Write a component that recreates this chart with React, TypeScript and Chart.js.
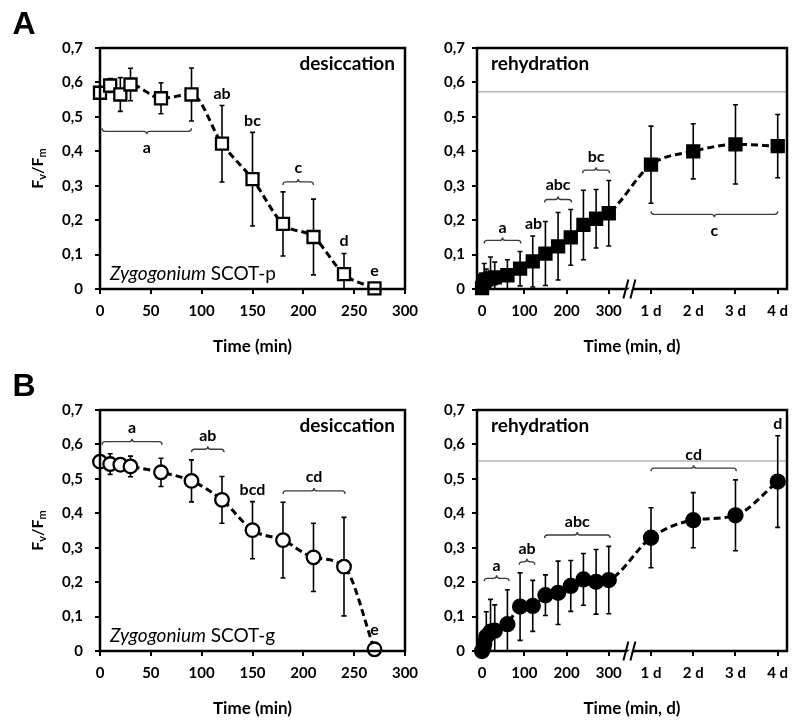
import { useEffect, useRef } from "react";
import { Chart, registerables } from "chart.js";
Chart.register(...registerables);

const FONT = "Lato, 'Noto Sans', sans-serif";

// ---------- data ----------
const desTimes = [0, 10, 20, 30, 60, 90, 120, 150, 180, 210, 240, 270];
const desP = [0.570, 0.591, 0.565, 0.594, 0.554, 0.565, 0.422, 0.319, 0.189, 0.151, 0.043, 0.002];
const desPErr = [0.012, 0.02, 0.049, 0.047, 0.045, 0.077, 0.111, 0.136, 0.093, 0.110, 0.060, 0];
const desG = [0.550, 0.543, 0.541, 0.536, 0.519, 0.494, 0.439, 0.351, 0.322, 0.272, 0.245, 0.005];
const desGErr = [0.010, 0.030, 0.015, 0.030, 0.041, 0.061, 0.068, 0.083, 0.110, 0.099, 0.143, 0];

// rehydration: minutes, then days (1 d .. 4 d placed after the axis break)
const rehMinutes = [0, 5, 10, 20, 30, 60, 90, 120, 150, 180, 210, 240, 270, 300];
const rehDays = [1, 2, 3, 4];
const rehP = [0.003, 0.024, 0.028, 0.031, 0.034, 0.040, 0.059, 0.080, 0.103, 0.124, 0.150, 0.186, 0.204, 0.220, 0.361, 0.400, 0.420, 0.415];
const rehPErr = [0.01, 0.05, 0.03, 0.062, 0.044, 0.045, 0.050, 0.074, 0.093, 0.098, 0.081, 0.101, 0.085, 0.095, 0.112, 0.080, 0.115, 0.092];
const rehG = [0.000, 0.020, 0.042, 0.056, 0.059, 0.078, 0.129, 0.131, 0.162, 0.169, 0.189, 0.208, 0.201, 0.206, 0.329, 0.380, 0.394, 0.492];
const rehGErr = [0.01, 0.03, 0.072, 0.094, 0.075, 0.100, 0.098, 0.074, 0.059, 0.092, 0.074, 0.075, 0.094, 0.098, 0.087, 0.080, 0.103, 0.133];

const controlP = 0.573;
const controlG = 0.552;

const yTicks = [0, 0.1, 0.2, 0.3, 0.4, 0.5, 0.6, 0.7];
const desXTicks = [0, 50, 100, 150, 200, 250, 300];
const rehMinTicks = [0, 100, 200, 300];
const rehDayLabels = ["1 d", "2 d", "3 d", "4 d"];

const DAY_START = 300; // axis position of day 0
const DAY_STEP = 100;  // axis units per day
const BREAK_AT = 350;

type Brace = { x1: number; x2: number; y: number; ly: number; label: string; dir: "up" | "down" };
type Mark = { x: number; y: number; label: string };

const bracesAL: Brace[] = [
  { x1: 2, x2: 90, y: 0.458, ly: 0.409, label: "a", dir: "down" },
  { x1: 180, x2: 210, y: 0.311, ly: 0.351, label: "c", dir: "up" },
];
const marksAL: Mark[] = [
  { x: 120, y: 0.568, label: "ab" },
  { x: 150, y: 0.487, label: "bc" },
  { x: 240, y: 0.139, label: "d" },
  { x: 270, y: 0.054, label: "e" },
];
const bracesAR: Brace[] = [
  { x1: 5, x2: 92, y: 0.141, ly: 0.179, label: "a", dir: "up" },
  { x1: 148, x2: 212, y: 0.26, ly: 0.303, label: "abc", dir: "up" },
  { x1: 238, x2: 302, y: 0.345, ly: 0.385, label: "bc", dir: "up" },
  { x1: 400, x2: 700, y: 0.217, ly: 0.170, label: "c", dir: "down" },
];
const marksAR: Mark[] = [{ x: 122, y: 0.188, label: "ab" }];
const bracesBL: Brace[] = [
  { x1: 2, x2: 61, y: 0.608, ly: 0.647, label: "a", dir: "up" },
  { x1: 90, x2: 122, y: 0.586, ly: 0.625, label: "ab", dir: "up" },
  { x1: 180, x2: 241, y: 0.465, ly: 0.505, label: "cd", dir: "up" },
];
const marksBL: Mark[] = [
  { x: 150, y: 0.468, label: "bcd" },
  { x: 270, y: 0.062, label: "e" },
];
const bracesBR: Brace[] = [
  { x1: 5, x2: 64, y: 0.211, ly: 0.247, label: "a", dir: "up" },
  { x1: 88, x2: 125, y: 0.259, ly: 0.296, label: "ab", dir: "up" },
  { x1: 148, x2: 303, y: 0.337, ly: 0.374, label: "abc", dir: "up" },
  { x1: 400, x2: 602, y: 0.531, ly: 0.571, label: "cd", dir: "up" },
];
const marksBR: Mark[] = [{ x: 700, y: 0.659, label: "d" }];

// ---------- panel config ----------
type Cfg = {
  area: { l: number; t: number; r: number; b: number };
  xMin: number; xMax: number;
  xTicks: number[]; xLabels: string[];
  times: number[]; values: number[]; errs: number[];
  filled: boolean; shape: "rect" | "circle"; radius: number;
  control?: number; breakAt?: number;
  cond: string; condRight: boolean;
  species?: [string, string];
  letter?: string;
  yTitle: boolean;
  xTitle: string;
  tickPad: number;
  braces: Brace[]; marks: Mark[];
};

const rehTimes = [...rehMinutes, ...rehDays.map((d) => DAY_START + DAY_STEP * d)];
const rehXTicks = [...rehMinTicks, ...rehDays.map((d) => DAY_START + DAY_STEP * d)];
const rehXLabels = [...rehMinTicks.map(String), ...rehDayLabels];

const panels: Cfg[] = [
  {
    area: { l: 100, t: 48, r: 405, b: 289 }, xMin: 0, xMax: 300,
    xTicks: desXTicks, xLabels: desXTicks.map(String),
    times: desTimes, values: desP, errs: desPErr, filled: false, shape: "rect", radius: 8.5,
    cond: "desiccation", condRight: true, species: ["Zygogonium", " SCOT-p"], letter: "A",
    yTitle: true, xTitle: "Time (min)", tickPad: 12, braces: bracesAL, marks: marksAL,
  },
  {
    area: { l: 477, t: 48, r: 787, b: 289 }, xMin: -12, xMax: 722,
    xTicks: rehXTicks, xLabels: rehXLabels,
    times: rehTimes, values: rehP, errs: rehPErr, filled: true, shape: "rect", radius: 8.5,
    control: controlP, breakAt: BREAK_AT,
    cond: "rehydration", condRight: false, yTitle: false, xTitle: "Time (min, d)", tickPad: 7,
    braces: bracesAR, marks: marksAR,
  },
  {
    area: { l: 100, t: 410, r: 405, b: 651 }, xMin: 0, xMax: 300,
    xTicks: desXTicks, xLabels: desXTicks.map(String),
    times: desTimes, values: desG, errs: desGErr, filled: false, shape: "circle", radius: 6.8,
    cond: "desiccation", condRight: true, species: ["Zygogonium", " SCOT-g"], letter: "B",
    yTitle: true, xTitle: "Time (min)", tickPad: 12, braces: bracesBL, marks: marksBL,
  },
  {
    area: { l: 477, t: 410, r: 787, b: 651 }, xMin: -12, xMax: 722,
    xTicks: rehXTicks, xLabels: rehXLabels,
    times: rehTimes, values: rehG, errs: rehGErr, filled: true, shape: "circle", radius: 7,
    control: controlG, breakAt: BREAK_AT,
    cond: "rehydration", condRight: false, yTitle: false, xTitle: "Time (min, d)", tickPad: 7,
    braces: bracesBR, marks: marksBR,
  },
];

function drawBrace(ctx: CanvasRenderingContext2D, x1: number, x2: number, y: number, dir: "up" | "down") {
  const s = dir === "up" ? 1 : -1;
  const h = 3;
  const xm = (x1 + x2) / 2;
  ctx.beginPath();
  ctx.moveTo(x1, y + s * h);
  ctx.quadraticCurveTo(x1, y, x1 + h, y);
  ctx.lineTo(xm - h, y);
  ctx.quadraticCurveTo(xm, y, xm, y - s * h);
  ctx.quadraticCurveTo(xm, y, xm + h, y);
  ctx.lineTo(x2 - h, y);
  ctx.quadraticCurveTo(x2, y, x2, y + s * h);
  ctx.stroke();
}

function makePlugin(cfg: Cfg) {
  return {
    id: "panelDeco",
    beforeDatasetsDraw(chart: any) {
      const { ctx, chartArea: a, scales } = chart;
      const x = scales.x, y = scales.y;
      ctx.save();
      if (cfg.control != null) {
        const yy = y.getPixelForValue(cfg.control);
        ctx.strokeStyle = "#b4b4b4";
        ctx.lineWidth = 1.6;
        ctx.beginPath();
        ctx.moveTo(a.left, yy);
        ctx.lineTo(a.right, yy);
        ctx.stroke();
      }
      ctx.beginPath();
      ctx.rect(a.left - 10, a.top, a.right - a.left + 20, a.bottom - a.top);
      ctx.clip();
      ctx.strokeStyle = "#000";
      ctx.lineWidth = 1.6;
      cfg.times.forEach((t, i) => {
        const e = cfg.errs[i];
        if (!e) return;
        const px = x.getPixelForValue(t);
        const y1 = y.getPixelForValue(cfg.values[i] + e);
        const y2 = y.getPixelForValue(cfg.values[i] - e);
        ctx.beginPath();
        ctx.moveTo(px, y1); ctx.lineTo(px, y2);
        ctx.moveTo(px - 2.5, y1); ctx.lineTo(px + 2.5, y1);
        ctx.moveTo(px - 2.5, y2); ctx.lineTo(px + 2.5, y2);
        ctx.stroke();
      });
      ctx.restore();
    },
    afterDraw(chart: any) {
      const { ctx, chartArea: a, scales } = chart;
      const x = scales.x, y = scales.y;
      ctx.save();
      // frame
      ctx.strokeStyle = "#000";
      ctx.lineWidth = 2.5;
      ctx.strokeRect(a.left, a.top, a.right - a.left, a.bottom - a.top);
      // axis break
      if (cfg.breakAt != null) {
        const bx = x.getPixelForValue(cfg.breakAt);
        const by = a.bottom;
        ctx.fillStyle = "#fff";
        ctx.beginPath();
        ctx.moveTo(bx - 6, by + 4); ctx.lineTo(bx + 3, by - 4);
        ctx.lineTo(bx + 7, by - 4); ctx.lineTo(bx - 2, by + 4);
        ctx.closePath();
        ctx.fill();
        ctx.lineWidth = 2;
        ctx.beginPath();
        ctx.moveTo(bx - 6.5, by + 9.5); ctx.lineTo(bx - 1.5, by - 9.5);
        ctx.moveTo(bx + 0.5, by + 9.5); ctx.lineTo(bx + 5.5, by - 9.5);
        ctx.stroke();
      }
      ctx.fillStyle = "#000";
      // condition title
      ctx.font = `bold 19px ${FONT}`;
      ctx.textBaseline = "middle";
      if (cfg.condRight) {
        ctx.textAlign = "right";
        ctx.fillText(cfg.cond, a.right - 10, a.top + 16);
      } else {
        ctx.textAlign = "left";
        ctx.fillText(cfg.cond, a.left + 14, a.top + 16);
      }
      // species
      if (cfg.species) {
        ctx.textAlign = "left";
        ctx.textBaseline = "alphabetic";
        ctx.font = `italic 19px ${FONT}`;
        const w = ctx.measureText(cfg.species[0]).width;
        ctx.fillText(cfg.species[0], a.left + 10, a.bottom - 9);
        ctx.font = `19px ${FONT}`;
        ctx.fillText(cfg.species[1], a.left + 10 + w, a.bottom - 9);
      }
      // panel letter
      if (cfg.letter) {
        ctx.font = `bold 32px 'Liberation Sans', Arial, sans-serif`;
        ctx.textAlign = "center";
        ctx.textBaseline = "middle";
        ctx.fillText(cfg.letter, a.left - 76, a.top - 23);
      }
      // x title
      ctx.font = `bold 17px ${FONT}`;
      ctx.textAlign = "center";
      ctx.textBaseline = "middle";
      ctx.fillText(cfg.xTitle, (a.left + a.right) / 2, a.bottom + 58);
      // y title Fv/Fm
      if (cfg.yTitle) {
        ctx.save();
        ctx.translate(a.left - 63, (a.top + a.bottom) / 2);
        ctx.rotate(-Math.PI / 2);
        const parts: [string, boolean][] = [["F", false], ["v", true], ["/", false], ["F", false], ["m", true]];
        const mainF = `bold 16px ${FONT}`, subF = `bold 11px ${FONT}`;
        let total = 0;
        parts.forEach(([t, sub]) => { ctx.font = sub ? subF : mainF; total += ctx.measureText(t).width; });
        let cx = -total / 2;
        ctx.textAlign = "left";
        ctx.textBaseline = "alphabetic";
        parts.forEach(([t, sub]) => {
          ctx.font = sub ? subF : mainF;
          ctx.fillText(t, cx, sub ? 9 : 6);
          cx += ctx.measureText(t).width;
        });
        ctx.restore();
      }
      // braces and letters
      ctx.strokeStyle = "#3a3a3a";
      ctx.lineWidth = 1.3;
      ctx.font = `bold 16px ${FONT}`;
      ctx.textAlign = "center";
      ctx.textBaseline = "middle";
      cfg.braces.forEach((br) => {
        drawBrace(ctx, x.getPixelForValue(br.x1), x.getPixelForValue(br.x2), y.getPixelForValue(br.y), br.dir);
        ctx.fillText(br.label, x.getPixelForValue((br.x1 + br.x2) / 2), y.getPixelForValue(br.ly));
      });
      cfg.marks.forEach((m) => {
        ctx.fillText(m.label, x.getPixelForValue(m.x), y.getPixelForValue(m.y));
      });
      ctx.restore();
    },
  };
}

function Panel({ cfg }: { cfg: Cfg }) {
  const ref = useRef<HTMLCanvasElement>(null);
  useEffect(() => {
    const W = 800, H = 725, YW = 60, XH = 45;
    const { l, t, r, b } = cfg.area;
    const tickFont = { family: FONT, size: 15, weight: "bold" as const };
    const chart = new Chart(ref.current!, {
      type: "line",
      data: {
        datasets: [
          {
            data: cfg.times.map((tt, i) => ({ x: tt, y: cfg.values[i] })),
            borderColor: "#000",
            borderWidth: 3,
            borderDash: [7, 4],
            cubicInterpolationMode: "monotone",
            pointStyle: cfg.shape,
            pointRadius: cfg.radius,
            pointBorderWidth: 2.3,
            pointBackgroundColor: cfg.filled ? "#000" : "#fff",
            pointBorderColor: "#000",
            clip: false as any,
            fill: false,
          },
        ],
      },
      options: {
        responsive: false,
        animation: false,
        events: [],
        layout: { padding: { left: l - YW, top: t, right: W - r, bottom: H - b - XH } },
        plugins: { legend: { display: false }, tooltip: { enabled: false } },
        scales: {
          x: {
            type: "linear",
            min: cfg.xMin,
            max: cfg.xMax,
            afterBuildTicks: (s: any) => { s.ticks = cfg.xTicks.map((v) => ({ value: v })); },
            afterFit: (s: any) => { s.height = XH; },
            grid: { drawOnChartArea: false, drawTicks: true, tickLength: 5, color: "#000", lineWidth: 2 },
            border: { display: false },
            ticks: {
              autoSkip: false, maxRotation: 0, color: "#000", font: tickFont, padding: 8,
              callback: (v: any) => { const i = cfg.xTicks.indexOf(Number(v)); return i >= 0 ? cfg.xLabels[i] : ""; },
            },
          },
          y: {
            type: "linear",
            min: 0,
            max: 0.7,
            afterBuildTicks: (s: any) => { s.ticks = yTicks.map((v) => ({ value: v })); },
            afterFit: (s: any) => { s.width = YW; },
            grid: { drawOnChartArea: false, drawTicks: true, tickLength: 5, color: "#000", lineWidth: 2 },
            border: { display: false },
            ticks: {
              color: "#000", font: tickFont, padding: cfg.tickPad,
              callback: (v: any) => (Number(v) === 0 ? "0" : Number(v).toFixed(1).replace(".", ",")),
            },
          },
        },
      },
      plugins: [makePlugin(cfg)],
    } as any);
    return () => chart.destroy();
  }, [cfg]);
  return <canvas ref={ref} width={800} height={725} style={{ position: "absolute", left: 0, top: 0 }} />;
}

export default function App() {
  return (
    <div style={{ position: "absolute", left: 0, top: 0, width: 800, height: 725, background: "#fff" }}>
      {panels.map((p, i) => (
        <Panel key={i} cfg={p} />
      ))}
    </div>
  );
}
